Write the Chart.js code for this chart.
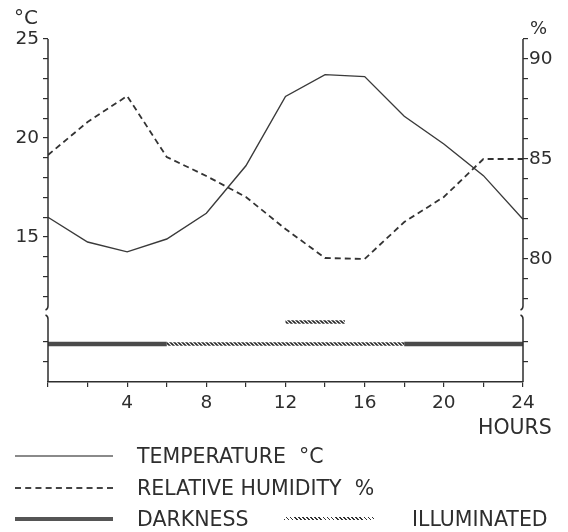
<!DOCTYPE html>
<html><head><meta charset="utf-8">
<script src="https://cdn.jsdelivr.net/npm/chart.js@4/dist/chart.umd.min.js"></script>
<style>
html,body{margin:0;padding:0;background:#fff;}
#wrap{position:relative;width:568px;height:532px;overflow:hidden;font-family:"DejaVu Sans",sans-serif;color:#2e2e2e;}
#c{position:absolute;left:0;top:0;}
.t{position:absolute;white-space:pre;line-height:1;font-size:20.5px;}
.ln{position:absolute;}
</style></head>
<body>
<div id="wrap">
<canvas id="c" width="568" height="532"></canvas>
<div class="t" style="left:14px;top:7px;font-size:20px;">°C</div>
<div class="t" style="left:530px;top:19px;font-size:18px;">%</div>
<div class="t" style="left:478px;top:417px;">HOURS</div>
<div class="ln" style="left:15px;top:455px;width:98px;height:0;border-top:2px solid #8a8a8a;"></div>
<div class="t" style="left:137px;top:446px;">TEMPERATURE  °C</div>
<div class="ln" style="left:15px;top:487px;width:98px;height:0;border-top:2px dashed #444;"></div>
<div class="t" style="left:137px;top:478px;">RELATIVE HUMIDITY  %</div>
<div class="ln" style="left:15px;top:517px;width:98px;height:4px;background:#555;"></div>
<div class="t" style="left:137px;top:509px;">DARKNESS</div>
<div class="ln" style="left:284px;top:517px;width:90px;height:3px;background:repeating-linear-gradient(45deg,#333 0 1.2px,transparent 1.2px 2.9px);"></div>
<div class="t" style="left:412px;top:509px;">ILLUMINATED</div>
</div>
<script>
// ---- data ----
const hours = [0, 2, 4, 6, 8, 10, 12, 14, 16, 18, 20, 22, 24];
const temperature = [16.0, 14.75, 14.25, 14.9, 16.2, 18.6, 22.1, 23.2, 23.1, 21.1, 19.7, 18.1, 15.9];
const humidity = [85.2, 86.85, 88.15, 85.1, 84.15, 83.1, 81.5, 80.05, 80.0, 81.85, 83.1, 85.0, 85.0];
const darkPeriods = [[0, 6], [18, 24]];
const illuminatedPeriods = [[6, 18]];
const illuminatedMark = [[12, 15]];
const xTickLabels = [4, 8, 12, 16, 20, 24];
const tempTicks = [12, 13, 14, 15, 16, 17, 18, 19, 20, 21, 22, 23, 24, 25];
const tempTickLabels = [15, 20, 25];
const humTicks = [78, 79, 80, 81, 82, 83, 84, 85, 86, 87, 88, 89, 90, 91];
const humTickLabels = [80, 85, 90];
const bandTicks = [1, 2];
const bandLevel = 1.9;
const markLevel = 3;

// ---- axis ranges ----
const T_MIN = 7.68, T_MAX = 25;
const H_MIN = 73.85, H_MAX = 91;
const B_MIN = 0, B_MAX = 17.15;
const BREAK_UPPER = 3.65, BREAK_LOWER = 3.3;
const FONT = 'DejaVu Sans';
const INK = '#2e2e2e';

function bandTo(v, mn, mx) { return mn + (v - B_MIN) / (B_MAX - B_MIN) * (mx - mn); }
function segs(periods, level) {
  const pts = [];
  periods.forEach((p, i) => {
    if (i) pts.push({x: (periods[i - 1][1] + p[0]) / 2, y: null});
    pts.push({x: p[0], y: level}, {x: p[1], y: level});
  });
  return pts;
}
function hatch() {
  const c = document.createElement('canvas');
  c.width = 4; c.height = 4;
  const g = c.getContext('2d');
  g.strokeStyle = '#262626'; g.lineWidth = 1.6;
  g.beginPath();
  g.moveTo(-1, -1); g.lineTo(5, 5);
  g.moveTo(-1, 3); g.lineTo(1, 5);
  g.moveTo(3, -1); g.lineTo(5, 1);
  g.stroke();
  return g.createPattern(c, 'repeat');
}
const pat = hatch();

const axisPlugin = {
  id: 'axisBreak',
  afterDraw(chart) {
    const {ctx, chartArea: a, scales} = chart;
    const yb = scales.yb;
    const pHi = yb.getPixelForValue(BREAK_UPPER), pLo = yb.getPixelForValue(BREAK_LOWER);
    ctx.save();
    ctx.strokeStyle = INK; ctx.lineWidth = 1.5;
    [a.left, a.right].forEach(x => {
      ctx.beginPath();
      ctx.moveTo(x, a.top); ctx.lineTo(x, pHi - 3);
      ctx.quadraticCurveTo(x, pHi, x - 2.5, pHi + 1);
      ctx.moveTo(x - 2.5, pLo - 1);
      ctx.quadraticCurveTo(x, pLo, x, pLo + 3);
      ctx.lineTo(x, a.bottom);
      ctx.stroke();
    });
    ctx.restore();
  }
};

const tickFont = {family: FONT, size: 18.5};
const gridCfg = {drawOnChartArea: false, drawTicks: true, tickLength: 5, color: INK, tickColor: INK, lineWidth: 1.2};

new Chart(document.getElementById('c'), {
  type: 'line',
  data: {
    datasets: [
      {label: 'TEMPERATURE °C', yAxisID: 'y', data: hours.map((h, i) => ({x: h, y: temperature[i]})),
        borderColor: '#3a3a3a', borderWidth: 1.4, pointRadius: 0, tension: 0},
      {label: 'RELATIVE HUMIDITY %', yAxisID: 'y1', data: hours.map((h, i) => ({x: h, y: humidity[i]})),
        borderColor: '#333', borderWidth: 1.8, borderDash: [6, 4], pointRadius: 0, tension: 0},
      {label: 'DARKNESS', yAxisID: 'yb', data: segs(darkPeriods, bandLevel),
        borderColor: '#4a4a4a', borderWidth: 4.5, pointRadius: 0, spanGaps: false, borderCapStyle: 'butt'},
      {label: 'ILLUMINATED', yAxisID: 'yb', data: segs(illuminatedPeriods, bandLevel),
        borderColor: pat, borderWidth: 3.5, pointRadius: 0, spanGaps: false, borderCapStyle: 'butt'},
      {label: 'ILLUMINATED', yAxisID: 'yb', data: segs(illuminatedMark, markLevel),
        borderColor: pat, borderWidth: 3.5, pointRadius: 0, spanGaps: false, borderCapStyle: 'butt'}
    ]
  },
  options: {
    responsive: false, animation: false,
    layout: {padding: {top: 39, bottom: 100, left: 0, right: 0}},
    plugins: {legend: {display: false}, tooltip: {enabled: false}},
    scales: {
      x: {type: 'linear', position: 'bottom', min: 0, max: 24,
        afterBuildTicks: s => { s.ticks = hours.map(v => ({value: v})); },
        ticks: {callback: v => xTickLabels.includes(v) ? String(v) : '', font: tickFont, color: INK, padding: 5, maxRotation: 0, autoSkip: false},
        grid: gridCfg,
        border: {display: true, color: INK, width: 1.5},
        afterFit: s => { s.height = 50; }
      },
      y: {position: 'left', min: T_MIN, max: T_MAX,
        afterBuildTicks: s => { s.ticks = tempTicks.concat(bandTicks.map(b => bandTo(b, T_MIN, T_MAX))).map(v => ({value: v})); },
        ticks: {callback: v => tempTickLabels.includes(v) ? String(v) : '', font: tickFont, color: INK, padding: 4, autoSkip: false},
        grid: gridCfg, border: {display: false},
        afterFit: s => { s.width = 48; }
      },
      y1: {position: 'right', min: H_MIN, max: H_MAX,
        afterBuildTicks: s => { s.ticks = humTicks.concat(bandTicks.map(b => bandTo(b, H_MIN, H_MAX))).map(v => ({value: v})); },
        ticks: {callback: v => humTickLabels.includes(v) ? String(v) : '', font: tickFont, color: INK, padding: 1, autoSkip: false},
        grid: gridCfg, border: {display: false},
        afterFit: s => { s.width = 45; }
      },
      yb: {display: false, min: B_MIN, max: B_MAX}
    }
  },
  plugins: [axisPlugin]
});
</script>
</body></html>
